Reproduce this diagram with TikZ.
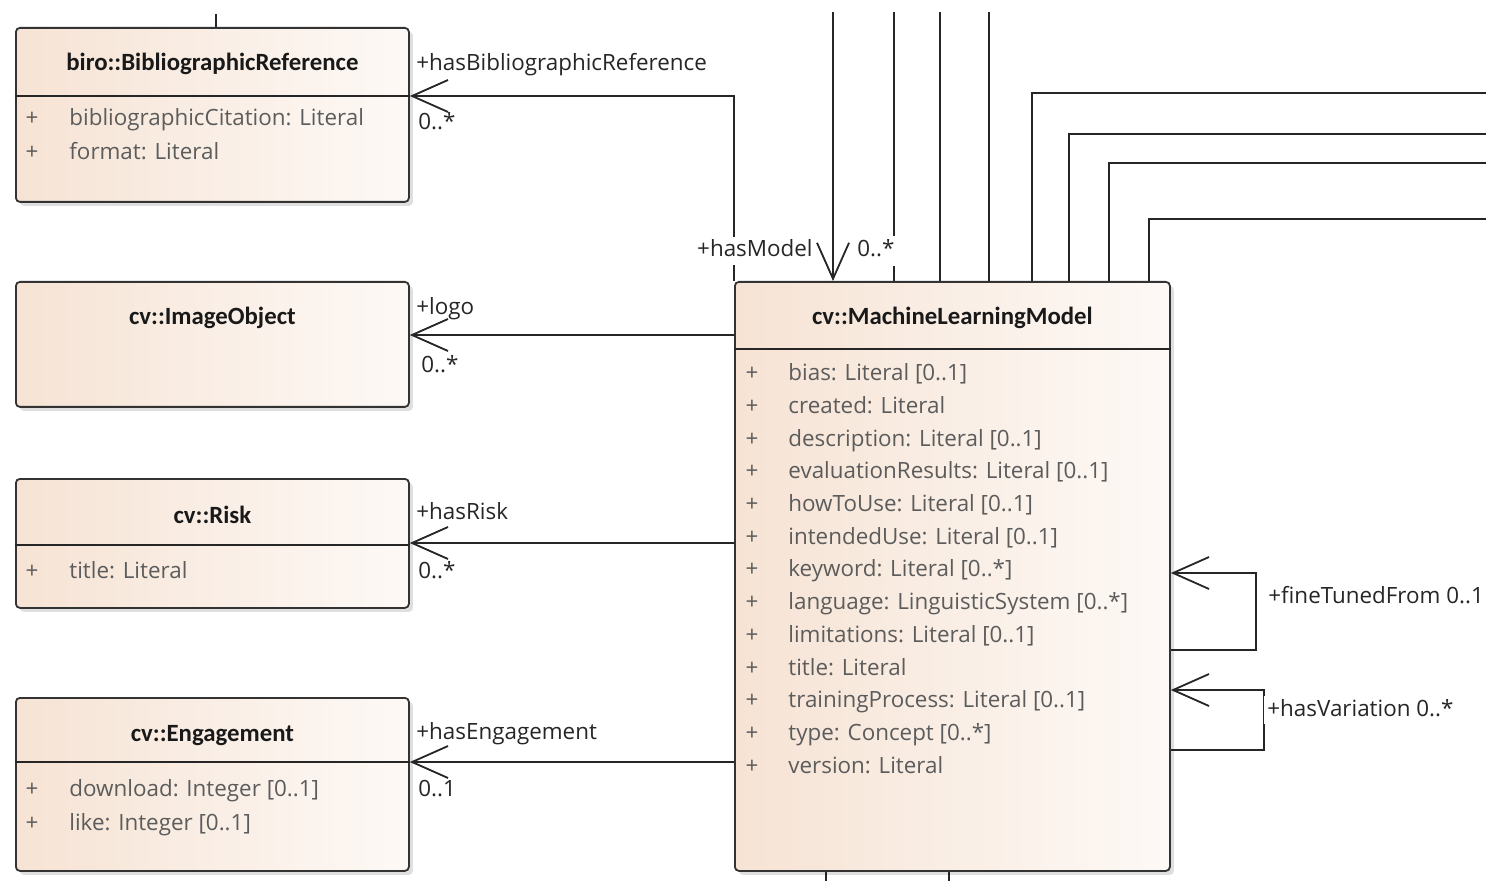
\documentclass[tikz,border=0pt]{standalone}
\usepackage{fontspec}
\setmainfont{Open Sans}
\newfontfamily\namefont{Carlito}
\usetikzlibrary{arrows.meta,shadows}

\definecolor{classfill}{RGB}{246,227,212}
\definecolor{classfade}{RGB}{253,249,246}
\definecolor{attrgray}{RGB}{92,92,92}

\tikzset{
  class/.style={draw=black!80, line width=0.9pt, rounded corners=2pt, anchor=north west,
    left color=classfill, right color=classfade,
    drop shadow={shadow xshift=2pt, shadow yshift=-2pt, opacity=0.25}},
  cname/.style={font=\namefont\fontsize{12.4}{15}\selectfont\bfseries, text=black!90, inner sep=0pt,
    text height=8pt, text depth=2pt},
  attr/.style={anchor=west, text=attrgray, inner sep=0pt, text height=8.5pt, text depth=2.5pt},
  plus/.style={text=attrgray, inner sep=0pt, text height=8.5pt, text depth=2.5pt},
  role/.style={anchor=west, inner sep=0pt, text=black!85, text height=8.5pt, text depth=2.5pt},
  link/.style={draw=black!85, line width=0.9pt},
  assoc/.style={link, -{Straight Barb[length=18pt,width=16pt,line width=0.9pt]}},
}

\begin{document}
\begin{tikzpicture}[x=0.5pt, y=-0.5pt, font=\fontsize{11.2}{13}\selectfont]
\useasboundingbox[fill=white] (0,0) rectangle (1486,881);

% classes on the left
\node[class, minimum width=196.5pt, minimum height=87pt] (bib) at (15,27) {};
\node[class, minimum width=196.5pt, minimum height=62.5pt] (img) at (15,281) {};
\node[class, minimum width=196.5pt, minimum height=64.5pt] (risk) at (15,478) {};
\node[class, minimum width=196.5pt, minimum height=86.5pt] (eng) at (15,697) {};
% the model class
\node[class, minimum width=217.5pt, minimum height=294.5pt] (ml) at (734,281) {};

% compartment lines
\draw[link] (bib.west |- 0,96) -- (bib.east |- 0,96);
\draw[link] (risk.west |- 0,545) -- (risk.east |- 0,545);
\draw[link] (eng.west |- 0,762) -- (eng.east |- 0,762);
\draw[link] (ml.west |- 0,349) -- (ml.east |- 0,349);

% names
\node[cname] (bib-t) at (bib.north |- 0,65) {biro::BibliographicReference};
\node[cname] (img-t) at (img.north |- 0,319) {cv::ImageObject};
\node[cname] (risk-t) at (risk.north |- 0,517) {cv::Risk};
\node[cname] (eng-t) at (eng.north |- 0,735) {cv::Engagement};
\node[cname] (ml-t) at (ml.north |- 0,319) {cv::MachineLearningModel};

% attributes
\node[plus] (bib-p1) at (32,120) {+};
\node[attr] (bib-a1) at (69,120) {bibliographicCitation: Literal};
\node[plus] (bib-p2) at (32,154) {+};
\node[attr] (bib-a2) at (69,154) {format: Literal};
\node[plus] (risk-p1) at (32,572) {+};
\node[attr] (risk-a1) at (69,572) {title: Literal};
\node[plus] (eng-p1) at (32,790) {+};
\node[attr] (eng-a1) at (69,790) {download: Integer [0..1]};
\node[plus] (eng-p2) at (32,824) {+};
\node[attr] (eng-a2) at (69,824) {like: Integer [0..1]};

\foreach \a [count=\i] in {{bias: Literal [0..1]}, {created: Literal},
    {description: Literal [0..1]}, {evaluationResults: Literal [0..1]},
    {howToUse: Literal [0..1]}, {intendedUse: Literal [0..1]},
    {keyword: Literal [0..*]}, {language: LinguisticSystem [0..*]},
    {limitations: Literal [0..1]}, {title: Literal},
    {trainingProcess: Literal [0..1]}, {type: Concept [0..*]}, {version: Literal}}{
  \node[plus] (ml-p\i) at (752,342+32.7*\i) {+};
  \node[attr] (ml-a\i) at (788,342+32.7*\i) {\a};
}

% associations
\draw[assoc] (ml.north west) |- (bib.east |- 0,96);
\node[role] (bib-r) at (416,65) {+hasBibliographicReference};
\node[role] (bib-m) at (418,124) {0..*};

\draw[assoc] (ml.west |- 0,335) -- (img.east |- 0,335);
\node[role] (img-r) at (416,309) {+logo};
\node[role] (img-m) at (421,367) {0..*};

\draw[assoc] (ml.west |- 0,543) -- (risk.east |- 0,543);
\node[role] (risk-r) at (416,513) {+hasRisk};
\node[role] (risk-m) at (418,572) {0..*};

\draw[assoc] (ml.west |- 0,762) -- (eng.east |- 0,762);
\node[role] (eng-r) at (416,733) {+hasEngagement};
\node[role] (eng-m) at (418,790) {0..1};

% other links leaving the picture
\draw[link] (bib.north -| 216,0) -- (216,14);
\foreach \x in {894,940,989}
  \draw[link] (ml.north -| \x,0) -- (\x,12);
\foreach \x/\y in {1032/93,1069/134,1109/163,1149/219}
  \draw[link] (ml.north -| \x,0) |- (1486,\y);
\foreach \x in {826,949}
  \draw[link] (ml.south -| \x,0) -- (\x,881);

\coordinate (up-model) at (833,12);
\draw[assoc] (up-model) -- (ml.north -| up-model);
\node[role, anchor=east, fill=white, inner sep=1.5pt] (model-r) at (816,251) {+hasModel};
\node[role, fill=white, inner sep=2pt] (model-m) at (853,251) {0..*};

% self associations
\draw[assoc] (ml.east |- 0,650) -| (1256,573) -- (ml.east |- 0,573);
\node[role] (tune-r) at (1268,597) {+fineTunedFrom 0..1};
\draw[assoc] (ml.east |- 0,750) -| (1264,690) -- (ml.east |- 0,690);
\node[role, fill=white, inner sep=1.5pt] (var-r) at (1264,710) {+hasVariation 0..*};
\end{tikzpicture}
\end{document}
